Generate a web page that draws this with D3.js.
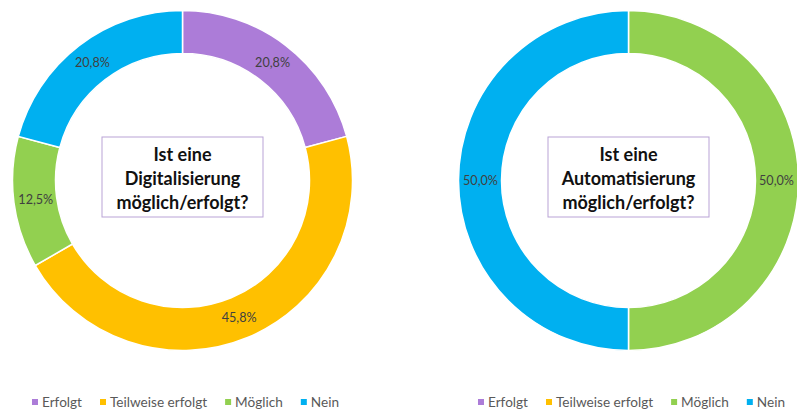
<!DOCTYPE html>
<html>
<head>
<meta charset="utf-8">
<script src="https://cdn.jsdelivr.net/npm/d3@7"></script>
<style>
  html, body { margin: 0; padding: 0; background: #fff; }
  svg { display: block; }
  text { font-family: Lato, "Open Sans", sans-serif; }
</style>
</head>
<body>
<svg id="chart" width="797" height="410"></svg>
<script>
// Answer categories shared by both rings
const categories = ["Erfolgt", "Teilweise erfolgt", "Möglich", "Nein"];
const categoryColors = ["#AC7CD8", "#FFC000", "#92D050", "#00B0F0"];

// Share of answers in percent, one value per category
const digitalisierungValues = [20.8, 45.8, 12.5, 20.8];
const automatisierungValues = [0, 0, 50.0, 50.0];

const titles = [
  ["Ist eine", "Digitalisierung", "möglich/erfolgt?"],
  ["Ist eine", "Automatisierung", "möglich/erfolgt?"]
];

const svg = d3.select("#chart");
const color = d3.scaleOrdinal().domain(categories).range(categoryColors);
const fmt = v => d3.format(".1f")(v).replace(".", ",") + "%";

const outerR = 170, innerR = 127;
const pie = d3.pie().sort(null).value(d => d.value);
const arc = d3.arc().innerRadius(innerR).outerRadius(outerR);
const labelArc = d3.arc().innerRadius(148).outerRadius(148);

const panels = [
  { cx: 182.5, cy: 180.5, values: digitalisierungValues, title: titles[0] },
  { cx: 628.5, cy: 180.5, values: automatisierungValues, title: titles[1] }
];

panels.forEach(p => {
  const data = categories.map((c, i) => ({ cat: c, value: p.values[i] }));
  const g = svg.append("g").attr("transform", `translate(${p.cx},${p.cy})`);
  const arcs = pie(data).filter(d => d.data.value > 0);

  g.selectAll("path.slice").data(arcs).join("path")
    .attr("class", "slice")
    .attr("d", arc)
    .attr("fill", d => color(d.data.cat))
    .attr("stroke", "#fff")
    .attr("stroke-width", 1.5);

  g.selectAll("text.val").data(arcs).join("text")
    .attr("class", "val")
    .attr("transform", d => `translate(${labelArc.centroid(d)})`)
    .attr("text-anchor", "middle")
    .attr("dy", "0.35em")
    .attr("font-size", 12.6)
    .attr("fill", "#404040")
    .text(d => fmt(d.data.value));

  // Title box in the centre of the ring
  g.append("rect")
    .attr("x", -80.5).attr("y", -43.5)
    .attr("width", 161).attr("height", 80)
    .attr("fill", "#fff")
    .attr("stroke", "#B9A3D6")
    .attr("stroke-width", 1);

  g.selectAll("text.title").data(p.title).join("text")
    .attr("class", "title")
    .attr("x", 0)
    .attr("y", (d, i) => -25.5 + i * 24)
    .attr("dy", "0.35em")
    .attr("text-anchor", "middle")
    .attr("font-size", 18)
    .attr("font-weight", "bold")
    .attr("fill", "#111")
    .text(d => d);

  // Legend below the ring
  const lg = svg.append("g");
  const items = lg.selectAll("g.item").data(categories).join("g").attr("class", "item");
  items.append("rect")
    .attr("width", 6).attr("height", 6)
    .attr("y", -4)
    .attr("fill", d => color(d));
  items.append("text")
    .attr("x", 10)
    .attr("dy", "0.32em")
    .attr("font-size", 13.6)
    .attr("fill", "#595959")
    .text(d => d);
  let x = 0;
  const gap = 18;
  items.each(function () {
    const w = 10 + d3.select(this).select("text").node().getComputedTextLength();
    d3.select(this).attr("transform", `translate(${x},0)`);
    x += w + gap;
  });
  const total = x - gap;
  lg.attr("transform", `translate(${p.cx + 3 - total / 2},403)`);
});
</script>
</body>
</html>
